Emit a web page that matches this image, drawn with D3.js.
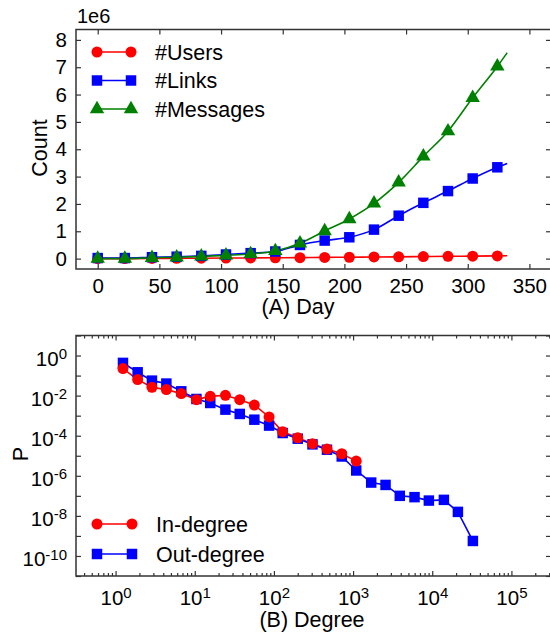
<!DOCTYPE html>
<html><head><meta charset="utf-8">
<script src="https://cdn.jsdelivr.net/npm/d3@7"></script>
<style>
body{margin:0;background:#fff}
svg text{font-family:"Liberation Sans",Arial,Helvetica,sans-serif;fill:#000}
</style>
</head><body><svg id="c" width="550" height="637"></svg>
<script>
// ---------- Panel A data (counts in units of 1e6) ----------
const days     = [0,22,44,64,84,104,124,144,164,184,204,224,244,264,284,304,324,332];
const users    = [0,0,0.005,0.01,0.015,0.02,0.025,0.03,0.035,0.045,0.05,0.06,0.065,0.075,0.085,0.09,0.1,0.105];
const links    = [0.02,0.02,0.05,0.07,0.1,0.15,0.2,0.26,0.5,0.66,0.78,1.06,1.57,2.04,2.47,2.93,3.34,3.48];
const messages = [0,0,0.03,0.05,0.08,0.12,0.17,0.28,0.56,1.01,1.45,2.02,2.79,3.74,4.66,5.88,7.03,7.53];
const dayTicks   = [0,50,100,150,200,250,300,350];
const countTicks = [0,1,2,3,4,5,6,7,8];
const seriesA = ["#Users","#Links","#Messages"];

// ---------- Panel B data ----------
const degree = [1.24,1.9,2.88,4.38,6.76,10.5,15.7,24.4,37,56.6,86.9,129,200,307,468,719,1096,1694,2570,3890,5970,9060,14030,21090,32590];
const inDegP  = [0.224,0.063,0.026,0.02,0.0126,0.0063,0.0092,0.0104,0.0063,0.0034,8.6e-4,1.58e-4,7.9e-5,4.0e-5,2.16e-5,1.26e-5,5.4e-6];
const outDegP = [0.43,0.146,0.056,0.04,0.0164,0.0068,0.0043,0.002,0.00122,6.3e-4,3.2e-4,1.36e-4,7.1e-5,3.7e-5,2.0e-5,9.2e-6,1.84e-6,4.6e-7,3.5e-7,1.0e-7,8.6e-8,5.8e-8,6.3e-8,1.58e-8,5.6e-10];
const degTickExp = [0,1,2,3,4,5];
const pTickExp   = [1,0,-1,-2,-3,-4,-5,-6,-7,-8,-9,-10,-11];
const pLabelExp  = [0,-2,-4,-6,-8,-10];
const seriesB = ["In-degree","Out-degree"];

const svg = d3.select("#c");
const L = 76, R = 551;
const frameColor = "#333";
const RED = "#ff0000", BLUE = "#0000ff", GREEN = "#008000";
const TICK_FS = 20.5, LABEL_FS = 21.5;

function styleAxis(g){
  g.select(".domain").remove();
  g.selectAll(".tick line").attr("stroke", frameColor).attr("stroke-width", 1.2);
  g.selectAll(".tick text").attr("font-size", TICK_FS).attr("fill","#000");
}

// ================= Panel A =================
const TA = 29.5, BA = 269;
const xA = d3.scaleLinear().domain([-17.6, 367.5]).range([L, R]);
const yA = d3.scaleLinear().domain([-0.38, 8.38]).range([BA, TA]);

const gA = svg.append("g");
gA.append("g").attr("transform",`translate(0,${BA})`)
  .call(d3.axisBottom(xA).tickValues(dayTicks).tickSizeInner(-5).tickSizeOuter(0).tickPadding(9.5).tickFormat(d3.format("d")))
  .call(styleAxis);
gA.append("g").attr("transform",`translate(0,${TA})`)
  .call(d3.axisTop(xA).tickValues(dayTicks).tickSizeInner(-5).tickSizeOuter(0).tickFormat(""))
  .call(styleAxis);
gA.append("g").attr("transform",`translate(${L},0)`)
  .call(d3.axisLeft(yA).tickValues(countTicks).tickSizeInner(-5).tickSizeOuter(0).tickPadding(9).tickFormat(d3.format("d")))
  .call(styleAxis);
gA.append("g").attr("transform",`translate(${R},0)`)
  .call(d3.axisRight(yA).tickValues(countTicks).tickSizeInner(-5).tickSizeOuter(0).tickFormat(""))
  .call(styleAxis);
gA.append("rect").attr("x",L).attr("y",TA).attr("width",R-L).attr("height",BA-TA)
  .attr("fill","none").attr("stroke",frameColor).attr("stroke-width",1.5);

const lineA = d3.line().x((d,i)=>xA(days[i])).y(d=>yA(d)).curve(d3.curveMonotoneX);
const sym = {
  circle: d3.symbol().type(d3.symbolCircle).size(95),
  square: d3.symbol().type(d3.symbolSquare).size(110),
  triangle: d3.symbol().type(d3.symbolTriangle).size(90)
};
const specA = [
  {name:seriesA[0], vals:users, color:RED, sym:sym.circle},
  {name:seriesA[1], vals:links, color:BLUE, sym:sym.square},
  {name:seriesA[2], vals:messages, color:GREEN, sym:sym.triangle}
];
const plotA = gA.append("g");
specA.forEach(s=>{
  plotA.append("path").attr("d", lineA(s.vals)).attr("fill","none").attr("stroke",s.color).attr("stroke-width",1.6);
});
specA.forEach(s=>{
  plotA.selectAll(null).data(s.vals.slice(0,-1)).enter().append("path")
    .attr("d", s.sym).attr("fill", s.color)
    .attr("transform",(d,i)=>`translate(${xA(days[i])},${yA(d)})`);
});
// legend A
specA.forEach((s,i)=>{
  const y = 52 + i*28.5;
  gA.append("line").attr("x1",97).attr("x2",131).attr("y1",y).attr("y2",y).attr("stroke",s.color).attr("stroke-width",1.6);
  [97,131].forEach(x=>gA.append("path").attr("d",s.sym).attr("fill",s.color).attr("transform",`translate(${x},${y})`));
  gA.append("text").attr("x",155).attr("y",y+7.5).attr("font-size",LABEL_FS).text(s.name);
});
gA.append("text").attr("x",77).attr("y",23).attr("font-size",20).text("1e6");
gA.append("text").attr("transform","translate(47,148) rotate(-90)").attr("text-anchor","middle").attr("font-size",LABEL_FS).text("Count");
gA.append("text").attr("x",298).attr("y",314).attr("text-anchor","middle").attr("font-size",LABEL_FS).text("(A) Day");

// ================= Panel B =================
const TB = 335.5, BB = 576;
const xB = d3.scaleLog().domain([Math.pow(10,-0.5), Math.pow(10,5.5)]).range([L, R]);
const yB = d3.scaleLog().domain([1e-11, 1e1]).range([BB, TB]);

const majorX = degTickExp.map(e=>Math.pow(10,e));
const minorX = [];
for (let e=-1; e<=5; e++) for (let m=2; m<=9; m++){ const v = m*Math.pow(10,e); if (v>=xB.domain()[0] && v<=xB.domain()[1]) minorX.push(v); }
const pTicks = pTickExp.map(e=>Math.pow(10,e));

const gB = svg.append("g");
function supLabels(g, exps){
  g.selectAll(".tick text").each(function(d){
    const e = Math.round(Math.log10(d));
    const t = d3.select(this);
    t.text(null);
    if (exps && exps.indexOf(e) < 0) return;
    t.append("tspan").text("10");
    t.append("tspan").attr("dy","-0.45em").attr("font-size",15).text(String(e));
  });
}
gB.append("g").attr("transform",`translate(0,${BB})`)
  .call(d3.axisBottom(xB).tickValues(majorX).tickSizeInner(-5).tickSizeOuter(0).tickPadding(14))
  .call(styleAxis).call(g=>supLabels(g,null));
gB.append("g").attr("transform",`translate(0,${BB})`)
  .call(d3.axisBottom(xB).tickValues(minorX).tickSizeInner(-3).tickSizeOuter(0).tickFormat(""))
  .call(styleAxis);
gB.append("g").attr("transform",`translate(0,${TB})`)
  .call(d3.axisTop(xB).tickValues(majorX).tickSizeInner(-5).tickSizeOuter(0).tickFormat(""))
  .call(styleAxis);
gB.append("g").attr("transform",`translate(0,${TB})`)
  .call(d3.axisTop(xB).tickValues(minorX).tickSizeInner(-3).tickSizeOuter(0).tickFormat(""))
  .call(styleAxis);
gB.append("g").attr("transform",`translate(${L},0)`)
  .call(d3.axisLeft(yB).tickValues(pTicks).tickSizeInner(-5).tickSizeOuter(0).tickPadding(9))
  .call(styleAxis).call(g=>{ supLabels(g, pLabelExp); g.selectAll(".tick text").attr("dy","0.48em"); });
gB.append("g").attr("transform",`translate(${R},0)`)
  .call(d3.axisRight(yB).tickValues(pTicks).tickSizeInner(-5).tickSizeOuter(0).tickFormat(""))
  .call(styleAxis);
gB.append("rect").attr("x",L).attr("y",TB).attr("width",R-L).attr("height",BB-TB)
  .attr("fill","none").attr("stroke",frameColor).attr("stroke-width",1.5);

const specB = [
  {name:seriesB[0], vals:inDegP, color:RED, sym:sym.circle},
  {name:seriesB[1], vals:outDegP, color:BLUE, sym:sym.square}
];
const lineB = d3.line().x((d,i)=>xB(degree[i])).y(d=>yB(d));
const plotB = gB.append("g");
specB.forEach(s=>{
  plotB.append("path").attr("d", lineB(s.vals)).attr("fill","none").attr("stroke",s.color).attr("stroke-width",1.6);
});
specB.slice().reverse().forEach(s=>{
  plotB.selectAll(null).data(s.vals).enter().append("path")
    .attr("d", s.sym).attr("fill", s.color)
    .attr("transform",(d,i)=>`translate(${xB(degree[i])},${yB(d)})`);
});
specB.forEach((s,i)=>{
  const y = 524 + i*30;
  gB.append("line").attr("x1",97).attr("x2",132).attr("y1",y).attr("y2",y).attr("stroke",s.color).attr("stroke-width",1.6);
  [97,132].forEach(x=>gB.append("path").attr("d",s.sym).attr("fill",s.color).attr("transform",`translate(${x},${y})`));
  gB.append("text").attr("x",156).attr("y",y+7.5).attr("font-size",LABEL_FS).text(s.name);
});
gB.append("text").attr("transform","translate(28,454) rotate(-90)").attr("text-anchor","middle").attr("font-size",LABEL_FS).text("P");
gB.append("text").attr("x",312).attr("y",627).attr("text-anchor","middle").attr("font-size",LABEL_FS).text("(B) Degree");
</script>
</body></html>
